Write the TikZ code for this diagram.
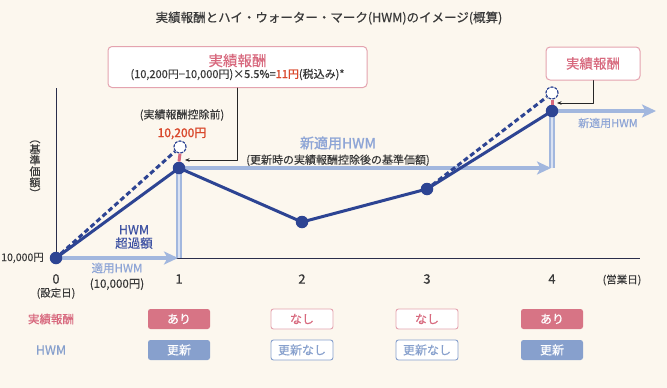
\documentclass[tikz,border=0pt]{standalone}
\usepackage{fontspec}
\setmainfont{Noto Sans CJK JP}[FakeBold=0.35]
\newfontfamily\jpheavy{Noto Sans CJK JP}[FakeBold=1.6]
\usetikzlibrary{arrows.meta,positioning,backgrounds}
\definecolor{bgcream}{HTML}{FCF7EE}
\definecolor{navy}{HTML}{2D4493}
\definecolor{hwmblue}{HTML}{A2B7DE}
\definecolor{hwmtext}{HTML}{8EA5D6}
\definecolor{feepink}{HTML}{D8697E}
\definecolor{pinkline}{HTML}{E4A3AF}
\definecolor{tagpink}{HTML}{D77485}
\definecolor{tagblue}{HTML}{87A0CD}
\definecolor{feered}{HTML}{D9482C}
\definecolor{inkgray}{HTML}{3A3A3A}
\definecolor{axisink}{HTML}{2A2D4A}
\definecolor{overnavy}{HTML}{3F53A3}
\begin{document}
\begin{tikzpicture}[x=1pt,y=-1pt,line join=round,line cap=round,>={Stealth[length=4.5pt,width=3.5pt]},font=\fontsize{10}{12}\selectfont]
  \tikzset{
    dotnode/.style={circle,fill=navy,inner sep=0pt,minimum size=12.5pt},
    ghostnode/.style={circle,draw=navy,fill=white,line width=1.2pt,dash pattern=on 2.4pt off 1.7pt,inner sep=0pt,minimum size=12pt},
    hwmline/.style={draw=hwmblue,line width=3.8pt,line cap=butt},
    hwmarrow/.style={hwmline,-{Stealth[length=14pt,width=13pt,inset=3.5pt]}},
    hwmrise/.style={draw=hwmblue,line width=1.6pt,double=hwmblue!40!white,double distance=2pt,line cap=butt},
    navyline/.style={draw=navy,line width=3pt},
    navydash/.style={navyline,line cap=butt,dash pattern=on 5pt off 3pt},
    guide/.style={draw=black!28,line width=1pt,dash pattern=on 0pt off 2.6pt},
    blueguide/.style={draw=hwmblue,line width=0.9pt,dash pattern=on 0pt off 2.4pt},
    feebox/.style={draw=pinkline,fill=white,rounded corners=4pt,line width=1pt,align=center,inner sep=0pt},
    callout/.style={draw=black!85,line width=0.6pt,->},
    ticklbl/.style={font=\fontsize{13}{15}\selectfont,text=inkgray},
    note/.style={font=\fontsize{11}{12}\selectfont,text=inkgray},
    tagfull/.style={rounded corners=2.5pt,minimum width=62pt,minimum height=20pt,inner sep=0pt,text=white,font=\fontsize{12}{14}\selectfont},
    tagline/.style={tagfull,fill=white,line width=0.9pt},
  }
  \useasboundingbox (0,0) rectangle (667,388);
  % points of the price line
  \node[dotnode] (p0) at (56,258) {};
  \node[dotnode] (p1) at (179,168) {};
  \node[dotnode] (p2) at (302,222) {};
  \node[dotnode] (p3) at (427,189) {};
  \node[dotnode] (p4) at (552,111) {};
  \node[ghostnode] (h1) at (180,147) {};
  \node[ghostnode] (h4) at (552,93) {};
  \coordinate (ytop) at (56,88);
  \coordinate (xend) at (640,258);
  \coordinate (hwm0end) at (178,258);
  \coordinate (hwm1base) at (179,258);
  \coordinate (hwm1end) at (551,168);
  \coordinate (hwm4base) at (552,168);
  \coordinate (hwm4end) at (656,111);
  \begin{scope}[on background layer]
    \fill[bgcream] (0,0) rectangle (667,388);
    \draw[axisink,line width=1pt,line cap=butt] (ytop) -- (p0.center) -- (xend);
    \draw[guide] (p2) -- (p2 |- xend);
    \draw[guide] (p3) -- (p3 |- xend);
    \draw[guide] (hwm4base) -- (hwm4base |- xend);
    \draw[blueguide] (171,152) -- (171,236);
    \draw[blueguide] (h1) -- (175,256);
    \draw[blueguide] (160,234) -- (168,237) -- (171,255);
    \draw[hwmarrow] (p0.center) -- (hwm0end);
    \draw[hwmrise] (hwm1base) -- (p1.center);
    \draw[hwmarrow] (p1.center) -- (hwm1end);
    \draw[hwmrise] (hwm4base) -- (p4.center);
    \draw[hwmarrow] (p4.center) -- (hwm4end);
    \draw[navydash] (p0) -- (h1);
    \draw[navydash] (p3) -- (h4);
    \draw[navyline] (p0.center) -- (p1.center) -- (p2.center) -- (p3.center) -- (p4.center);
  \end{scope}
  \draw[feepink,line width=3pt,line cap=butt] (h1.south) -- (p1.north);
  \draw[feepink,line width=3pt,line cap=butt] (h4.south) -- (p4.north);
  % title
  \node[font=\fontsize{12.5}{15}\selectfont,text=inkgray] (title) at (329,18)
    {実績報酬とハイ・ウォーター・マーク(HWM)のイメージ(概算)};
  % fee boxes
  \node[feebox,minimum width=259pt,minimum height=41pt] (box1) at (237.5,67)
    {{\color{feepink}\fontsize{14.5}{16}\selectfont 実績報酬}\\[0pt]
     {\color{inkgray}\fontsize{11}{12}\selectfont (10,200円−10,000円)×5.5\%={\color{feered}\jpheavy 11円}(税込み)*}};
  \node[feebox,minimum width=94pt,minimum height=33pt] (box2) at (593,63.5)
    {{\color{feepink}\fontsize{13.5}{15}\selectfont 実績報酬}};
  \coordinate (fee1) at (185,160);
  \coordinate (fee4) at (557,103);
  \draw[callout] (box1.south) |- (fee1);
  \draw[callout] (box2.south) |- (fee4);
  % labels on the chart
  \node[note] (prelbl) at (182,115) {(実績報酬控除前)};
  \node[font=\jpheavy\fontsize{12}{13}\selectfont,text=feered,below=0pt of prelbl] (prevalue) {10,200円};
  \node[font=\fontsize{12.5}{13.5}\selectfont,text=overnavy,align=center] (overlbl) at (134,237) {HWM\\超過額};
  \node[font=\fontsize{11.5}{12}\selectfont,text=hwmtext] (oldhwm) at (117,268) {適用HWM};
  \node[note,font=\fontsize{11.5}{12}\selectfont,below=-2pt of oldhwm] (oldval) {(10,000円)};
  \node[font=\jpheavy\fontsize{14}{16}\selectfont,text=hwmtext] (newhwm) at (338,143) {新適用HWM};
  \node[note,below=-2pt of newhwm] (newnote) {(更新時の実績報酬控除後の基準価額)};
  \node[font=\fontsize{11}{12}\selectfont,text=hwmtext] (newhwm4) at (608,123) {新適用HWM};
  % axes labels
  \node[text=inkgray,anchor=east,inner sep=1pt,font=\fontsize{10.5}{12}\selectfont] (startval) at (45,258) {10,000円};
  \node[text=inkgray,align=center,font=\fontsize{11}{11}\selectfont] (ylbl) at (35,169) {︵\\基\\準\\価\\額\\︶};
  \node[ticklbl] (t0) at (56,279) {0};
  \node[note,font=\fontsize{10.5}{12}\selectfont,below=-3pt of t0] (t0s) {(設定日)};
  \node[ticklbl] (t1) at (179,279) {1};
  \node[ticklbl] (t2) at (302,279) {2};
  \node[ticklbl] (t3) at (427,279) {3};
  \node[ticklbl] (t4) at (552,279) {4};
  \node[note,font=\fontsize{10.5}{12}\selectfont] (tunit) at (622,280) {(営業日)};
  % table below
  \node[text=feepink,font=\fontsize{11.5}{13}\selectfont] (rowfee) at (51,319) {実績報酬};
  \node[text=tagblue,font=\fontsize{12.5}{13}\selectfont] (rowhwm) at (51,350) {HWM};
  \node[tagfull,fill=tagpink] (fee1tag) at (t1 |- rowfee) {あり};
  \node[tagline,draw=pinkline,text=feepink] (fee2tag) at (t2 |- rowfee) {なし};
  \node[tagline,draw=pinkline,text=feepink] (fee3tag) at (t3 |- rowfee) {なし};
  \node[tagfull,fill=tagpink] (fee4tag) at (t4 |- rowfee) {あり};
  \node[tagfull,fill=tagblue] (hwm1tag) at (t1 |- rowhwm) {更新};
  \node[tagline,draw=tagblue,text=tagblue] (hwm2tag) at (t2 |- rowhwm) {更新なし};
  \node[tagline,draw=tagblue,text=tagblue] (hwm3tag) at (t3 |- rowhwm) {更新なし};
  \node[tagfull,fill=tagblue] (hwm4tag) at (t4 |- rowhwm) {更新};
\end{tikzpicture}
\end{document}
